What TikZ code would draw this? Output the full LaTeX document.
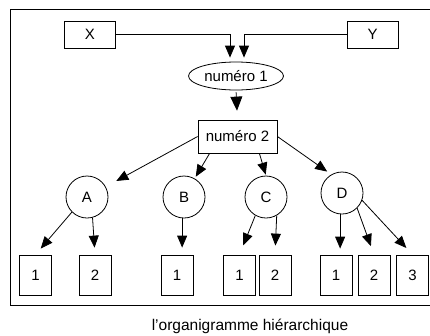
\documentclass[tikz,border=0pt]{standalone}
\usepackage{fontspec}
\setmainfont{Liberation Sans}
\usetikzlibrary{shapes.geometric,arrows.meta,positioning,calc}

\begin{document}
\begin{tikzpicture}[x=1pt,y=-1pt,line width=0.8pt,
    font=\fontsize{15}{18}\selectfont,
    topbox/.style={draw,minimum width=51pt,minimum height=27pt,inner sep=0pt},
    leaf/.style={draw,minimum width=32pt,minimum height=40pt,inner sep=0pt},
    unit/.style={draw,circle,minimum size=42pt,inner sep=0pt},
    arr/.style={-{Triangle[length=12pt,width=10pt]}},
    bigarr/.style={-{Triangle[length=14pt,width=12pt]}}]
        \useasboundingbox (0,0) rectangle (430,335);
        \draw (10,9) -- (433,9);
        \draw (10,9) -- (10,305) -- (433,305);

        % Inputs
        \node[topbox] (X) at (90,34.5) {X};
        \node[topbox] (Y) at (372.5,34.5) {Y};
        \node[draw,ellipse,minimum width=95pt,minimum height=28pt,inner sep=0pt] (n1) at (236,76) {numéro 1};
        \node[draw,minimum width=79pt,minimum height=33pt,inner sep=0pt] (n2) at (237.5,136.5) {numéro 2};

        \draw[arr,shorten >=4pt] (X.east) -| ([xshift=-6pt]n1.north);
        \draw[arr,shorten >=4pt] (Y.west) -| ([xshift=8pt]n1.north);
        \draw[bigarr,shorten >=9pt,shorten <=2pt] (n1.south) -- (n2.north);

        % Level 2
        \node[unit] (A) at (87,197) {A};
        \node[unit] (B) at (184,197) {B};
        \node[unit] (C) at (266,197) {C};
        \node[unit] (D) at (342,193) {D};

        \draw[arr,shorten >=12pt] (n2.west) -- (A);
        \draw[arr,shorten >=2pt] ([xshift=12pt]n2.south west) -- (B.60);
        \draw[arr,shorten >=1pt] ([xshift=-18pt]n2.south east) -- (C.north);
        \draw[arr,shorten >=5pt] (n2.east) -- (D.120);

        % Leaves
        \node[leaf] (a1) at (35.5,275) {1};
        \node[leaf] (a2) at (95,275) {2};
        \node[leaf] (b1) at (177,275) {1};
        \node[leaf] (c1) at (239.5,275) {1};
        \node[leaf] (c2) at (275,275) {2};
        \node[leaf] (d1) at (336,275) {1};
        \node[leaf] (d2) at (374,275) {2};
        \node[leaf] (d3) at (412.5,275) {3};

        \draw[arr,shorten >=8pt] (A.225) -- (a1.north);
        \draw[arr,shorten >=7pt] (A.-75) -- (a2.north);
        \draw[arr,shorten >=7pt] (B.-95) -- (B.-95 |- b1.north);
        \draw[arr,shorten >=10pt] (C.240) -- (c1.north);
        \draw[arr,shorten >=9pt] (C.-60) -- (c2.north);
        \draw[arr,shorten >=6pt] (D.-95) -- (D.-95 |- d1.north);
        \draw[arr,shorten >=9pt] (D.-45) -- (d2.north);
        \draw[arr,shorten >=9pt] (D.-20) -- (d3.north);

        % Caption
        \node[font=\fontsize{15.5}{18}\selectfont] (cap) at (250,326) {l'organigramme hiérarchique};
\end{tikzpicture}
\end{document}
